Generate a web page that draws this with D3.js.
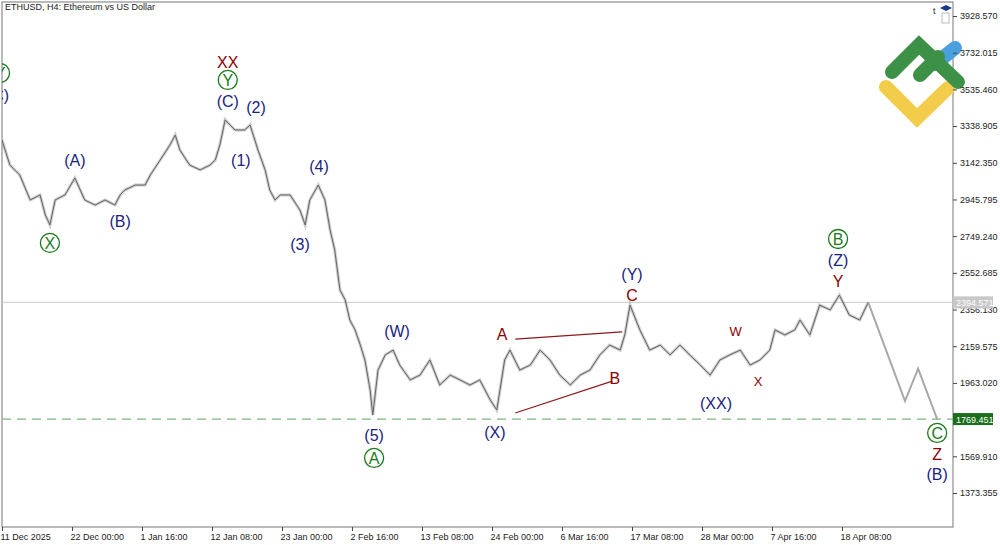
<!DOCTYPE html>
<html><head><meta charset="utf-8">
<script src="https://cdn.jsdelivr.net/npm/d3@7"></script>
<style>body{margin:0;background:#fff}text{font-family:"Liberation Sans",Arial,sans-serif}</style>
</head><body><svg id="c" width="1000" height="545"></svg>
<script>
const days=[0,1.2,2.7,4.3,5.8,6.6,7.3,8.1,9.6,11.1,12.6,14.2,15.7,17.2,18.0,18.7,20.3,21.8,22.6,24.1,25.6,26.4,27.1,28.6,30.2,31.7,32.5,33.2,34.0,35.5,37.0,37.8,39.0,40.1,40.8,41.6,42.4,43.9,45.4,46.2,46.9,48.2,49.2,50.0,50.7,51.5,52.3,53.0,53.8,54.6,55.3,56.1,56.5,57.3,58.4,59.6,60.6,62.2,63.7,65.2,66.7,68.3,69.8,71.3,72.8,74.4,75.4,76.6,77.4,78.9,80.5,82.0,83.5,85.0,86.6,88.1,89.6,91.1,92.6,94.2,94.9,95.7,97.2,98.7,100.3,101.8,103.3,104.8,106.4,107.9,109.4,110.9,112.5,114.0,115.5,117.0,117.8,119.3,120.8,121.6,123.1,124.6,126.2,127.6,129.1,130.7,132.0];
const prices=[3264,3130,3077,2943,2970,2863,2809,2943,2970,3061,2943,2916,2943,2916,2970,2996,3023,3023,3077,3157,3238,3291,3211,3130,3104,3130,3157,3238,3372,3318,3318,3345,3211,3104,2996,2943,2970,2970,2889,2809,2943,3023,2943,2782,2675,2461,2407,2300,2247,2166,2086,1925,1791,2032,2113,2139,2059,1979,2005,2086,1952,2005,1979,1952,1979,1872,1818,2086,2139,2032,2059,2139,2086,2005,1952,2005,2032,2113,2166,2139,2220,2380,2247,2139,2166,2113,2166,2113,2059,2005,2086,2113,2139,2059,2086,2139,2247,2220,2247,2300,2220,2380,2354,2434,2327,2300,2394.571];
const projDays=[132.0,137.6,139.6,142.5];
const projPrices=[2394.571,1866,2039,1769.451];
const priceTicks=[3928.570,3732.015,3535.460,3338.905,3142.350,2945.795,2749.240,2552.685,2356.130,2159.575,1963.020,1569.910,1373.355];
const dateTickDays=[0,10.67,21.33,32,42.67,53.33,64,74.67,85.33,96,106.67,117.33,128];
const dateTickLabels=["11 Dec 2025","22 Dec 00:00","1 Jan 16:00","12 Jan 08:00","23 Jan 00:00","2 Feb 16:00","13 Feb 08:00","24 Feb 00:00","6 Mar 16:00","17 Mar 08:00","28 Mar 00:00","7 Apr 16:00","18 Apr 08:00"];
const currentPrice=2394.571, targetPrice=1769.451;
const lblText=["Y","(C)","XX","Y","(C)","(2)","(1)","(A)","(B)","X","(4)","(3)","(W)","(5)","A","A","B","C","(Y)","(X)","W","X","(XX)","B","(Z)","Y","C","Z","(B)"];
const lblDay=[-0.3,-0.6,34.4,34.4,34.4,38.7,36.4,11.1,18.0,7.3,48.3,45.4,60.2,56.7,56.7,76.2,93.4,96.0,96.0,75.1,111.8,115.2,108.8,127.4,127.4,127.4,142.5,142.5,142.5];
const lblPrice=[3623,3505,3682,3586,3473,3441,3157,3152,2830,2713,3120,2707,2236,1679,1561,2225,1989,2434,2546,1695,2241,1968,1855,2734,2621,2509,1695,1577,1475];
const lblKind=["gc","b","r","gc","b","b","b","b","b","gc","b","b","b","b","gc","r","r","r","b","b","rs","rs","b","gc","b","r","gc","r","b"];
const segDays=[[78.2,94.5],[78.2,93.0]];
const segPrices=[[2198,2236],[1802,1973]];

const svg=d3.select("#c");
const L=2,R=953,T=2,B=527;
const x=d3.scaleLinear().domain([0,145.0]).range([L,L+145*6.5625]);
const y=d3.scaleLinear().domain([1373.355,3928.570]).range([493,16]);
svg.append("defs").append("clipPath").attr("id","cp").append("rect").attr("x",L).attr("y",T).attr("width",R-L).attr("height",B-T);
svg.append("rect").attr("x",L).attr("y",T).attr("width",R-L).attr("height",B-T).attr("fill","none").attr("stroke","#777");
const g=svg.append("g").attr("clip-path","url(#cp)");
g.append("line").attr("x1",L).attr("x2",R).attr("y1",y(currentPrice)).attr("y2",y(currentPrice)).attr("stroke","#ccc");
g.append("line").attr("x1",L).attr("x2",R).attr("y1",y(targetPrice)).attr("y2",y(targetPrice)).attr("stroke","#7fb77f").attr("stroke-width",1.2).attr("stroke-dasharray","9,6");
const pts=days.map((d,i)=>[x(d),y(prices[i])]);
g.append("path").attr("d",d3.line()(pts)).attr("fill","none").attr("stroke","#9a9a9a").attr("stroke-width",3).attr("opacity",0.5);
g.append("path").attr("d",d3.line()(pts)).attr("fill","none").attr("stroke","#666").attr("stroke-width",1);
g.append("path").attr("d",d3.line()(projDays.map((d,i)=>[x(d),y(projPrices[i])]))).attr("fill","none").attr("stroke","#a8a8a8").attr("stroke-width",2);
segDays.forEach((s,i)=>g.append("line").attr("x1",x(s[0])).attr("x2",x(s[1])).attr("y1",y(segPrices[i][0])).attr("y2",y(segPrices[i][1])).attr("stroke","#8b1a1a").attr("stroke-width",1.2));
lblText.forEach((t,i)=>{
  const k=lblKind[i],cx=x(lblDay[i]),cy=y(lblPrice[i]);
  const col=k==="gc"?"#1a7a1a":(k[0]==="r"?"#8b0000":"#1a237e");
  if(k==="gc")g.append("circle").attr("cx",cx).attr("cy",cy).attr("r",9.5).attr("fill","none").attr("stroke",col).attr("stroke-width",1.3);
  g.append("text").attr("x",cx).attr("y",cy+(k==="gc"?0.5:0)).attr("text-anchor","middle").attr("dominant-baseline","central")
   .attr("font-size",k==="gc"?16:(k==="rs"?13:16)).attr("fill",col).text(t);
});
const lg=svg.append("g").attr("stroke-linecap","round").attr("fill","none").attr("stroke-width",14);
lg.append("path").attr("d","M955,48 L935,64").attr("stroke","#4a9fdf");
lg.append("path").attr("d","M886,87 L917,118 L948,88").attr("stroke","#f2cc4a");
lg.append("path").attr("d","M892,72 L919,45 L958,82 M920,75 L938,57").attr("stroke","#3d9146");
const ya=svg.append("g").attr("transform",`translate(${R},0)`).call(d3.axisRight(y).tickValues(priceTicks).tickSize(4).tickFormat(d3.format(".3f")));
ya.select(".domain").remove();
ya.selectAll("text").attr("font-size",9).attr("fill","#222").attr("font-family","Liberation Sans");
ya.selectAll("line").attr("stroke","#444");
const xa=svg.append("g").attr("transform",`translate(0,${B})`).call(d3.axisBottom(x).tickValues(dateTickDays).tickSize(4).tickFormat((d,i)=>dateTickLabels[i]));
xa.select(".domain").remove();
xa.selectAll("text").attr("font-size",9).attr("fill","#222").attr("text-anchor","start").attr("dx",-2).attr("font-family","Liberation Sans");
xa.selectAll("line").attr("stroke","#444");
[[currentPrice,"#c8c8c8","#fff"],[targetPrice,"#1b6e1b","#fff"]].forEach(([p,bg,fg])=>{
  svg.append("rect").attr("x",R).attr("y",y(p)-6).attr("width",40).attr("height",12).attr("fill",bg);
  svg.append("text").attr("x",R+3).attr("y",y(p)+3.5).attr("font-size",9).attr("fill",fg).text(p.toFixed(3));
});
svg.append("text").attr("x",5).attr("y",10).attr("font-size",9).attr("fill","#222").text("ETHUSD, H4:  Ethereum vs US Dollar");
svg.append("text").attr("x",933).attr("y",14).attr("font-size",9).attr("fill","#222").text("t");
svg.append("rect").attr("x",942).attr("y",13).attr("width",7).attr("height",10).attr("fill","none").attr("stroke","#bbb");
svg.append("path").attr("d","M940,8 L946,5 L952,8 L946,11Z").attr("fill","#1a3a8a");
</script></body></html>
